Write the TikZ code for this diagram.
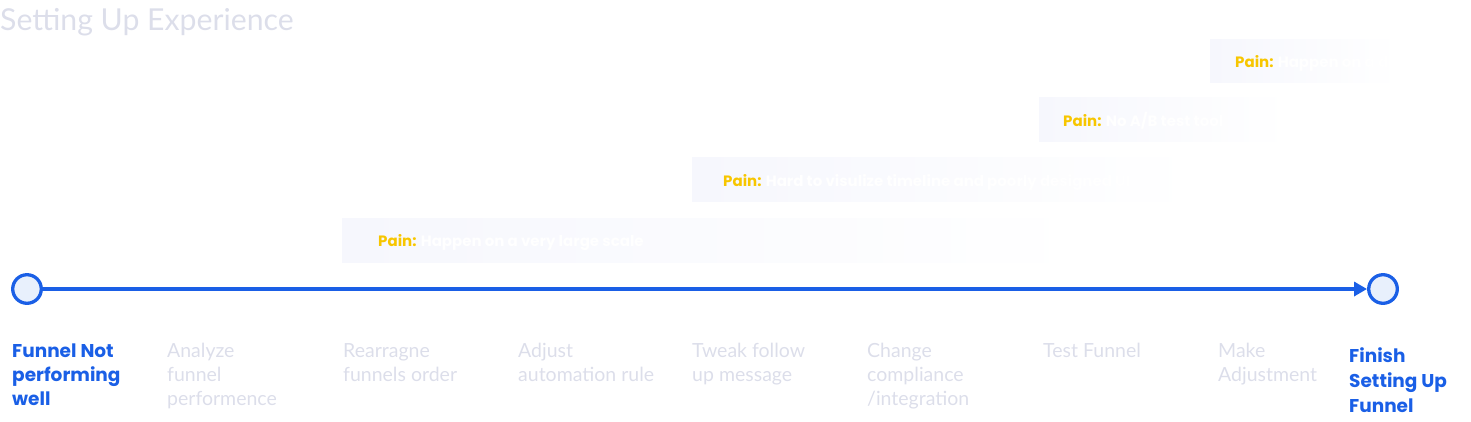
\documentclass[tikz,border=0pt]{standalone}
\usepackage{fontspec}
\setmainfont{Lato}
\newfontfamily\popfont{Poppins}
\usetikzlibrary{arrows.meta}
\definecolor{tlblue}{HTML}{1A5FE6}
\definecolor{dotfill}{HTML}{E8F0FC}
\definecolor{softgray}{HTML}{DCDEEA}
\definecolor{painyellow}{HTML}{F7C600}
\definecolor{boxfill}{HTML}{F6F7FD}
\tikzset{
  x=1pt, y=-1pt,
  dot/.style={circle, draw=tlblue, fill=dotfill, line width=3.3pt, minimum size=28.6pt, inner sep=0pt},
  steplabel/.style={anchor=base west, inner sep=0pt, align=left, text=softgray,
    font=\fontsize{19.5}{24}\selectfont},
  endlabel/.style={anchor=base west, inner sep=0pt, align=left, text=tlblue,
    font=\popfont\bfseries\fontsize{18.5}{24}\selectfont},
  endlabelb/.style={endlabel, font=\popfont\bfseries\fontsize{18.5}{25}\selectfont},
  paintxt/.style={anchor=base west, inner sep=0pt, font=\popfont\bfseries\fontsize{15}{18}\selectfont}
}
\begin{document}
\begin{tikzpicture}
\useasboundingbox (0,0) rectangle (1471,421);
% title
\node[anchor=base west, inner sep=0pt, text=softgray, font=\fontsize{30.2}{34}\selectfont] (title) at (0,30) {Setting Up Experience};
% pain boxes
\shade[left color=boxfill, right color=white] (342,218) rectangle (1090,262);
\node[paintxt] (p1) at (378,246) {\textcolor{painyellow}{Pain:} \textcolor{white}{Happen on a very large scale}};
\shade[left color=boxfill, right color=white] (692,157) rectangle (1200,201);
\node[paintxt] (p2) at (723,186) {\textcolor{painyellow}{Pain:} \textcolor{white}{Hard to visulize timeline and poorly designed UI}};
\shade[left color=boxfill, right color=white] (1039,97) rectangle (1290,141);
\node[paintxt] (p3) at (1063,126) {\textcolor{painyellow}{Pain:} \textcolor{white}{No A/B test tool}};
\shade[left color=boxfill, right color=white] (1210,39) rectangle (1400,82);
\node[paintxt] (p4) at (1235,67) {\textcolor{painyellow}{Pain:} \textcolor{white}{Happen on a daily}};
% timeline
\node[dot] (s) at (27,289) {};
\node[dot] (e) at (1383,289) {};
\draw[tlblue, line width=3.5pt, -{Triangle[length=13pt,width=14pt]}] (s) -- (e);
% labels (anchored at the baseline of their last line)
\node[endlabel] (l0) at (12,405) {Funnel Not\\performing\\well};
\node[steplabel] (l1) at (167,405) {Analyze\\funnel\\performence};
\node[steplabel] (l2) at (343,381) {Rearragne\\funnels order};
\node[steplabel] (l3) at (518,381) {Adjust\\automation rule};
\node[steplabel] (l4) at (692,381) {Tweak follow\\up message};
\node[steplabel] (l5) at (867,405) {Change\\compliance\\/integration};
\node[steplabel] (l6) at (1043,357) {Test Funnel};
\node[steplabel] (l7) at (1218,381) {Make\\Adjustment};
\node[endlabelb] (l8) at (1349,412) {Finish\\Setting Up\\Funnel};
\end{tikzpicture}
\end{document}
